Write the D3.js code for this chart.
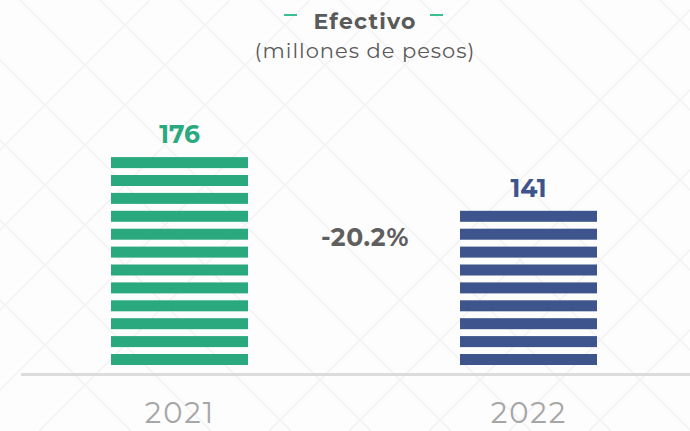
<!DOCTYPE html>
<html>
<head>
<meta charset="utf-8">
<script src="https://cdn.jsdelivr.net/npm/d3@7"></script>
<style>
  html, body { margin: 0; padding: 0; background: #fdfdfd; }
  svg { display: block; font-family: "Montserrat", "Open Sans", "DejaVu Sans", sans-serif; }
</style>
</head>
<body>
<div id="chart"></div>
<script>
// data
var years = ["2021", "2022"];
var values = [176, 141];
var valueLabels = ["176", "141"];
var changeLabel = "-20.2%";
var colors = ["#2ba97e", "#3d558c"];

var width = 690, height = 431;
var baseline = 365;
var stripeH = 11, pitch = 17.9;

var svg = d3.select("#chart").append("svg")
    .attr("width", width)
    .attr("height", height);

// faint chevron background
var bg = svg.append("g").attr("stroke", "#f2f2f2").attr("stroke-width", 1.5).attr("fill", "none");
[-300, -220, -140, -60, 20, 100, 180, 260, 340, 420, 500, 580, 660].forEach(function (o) {
    bg.append("line").attr("x1", o).attr("y1", 0).attr("x2", o + 431).attr("y2", 431);
});
[150, 230, 310, 390, 470, 700, 780, 860, 940, 1020].forEach(function (o) {
    bg.append("line").attr("x1", o).attr("y1", 0).attr("x2", o - 431).attr("y2", 431);
});

var x = d3.scalePoint()
    .domain(years)
    .range([179.5, 528.5]);

var y = d3.scaleLinear()
    .domain([0, 176])
    .range([baseline, 157]);

var barW = 137;

// title
svg.append("text")
    .attr("x", 365).attr("y", 29)
    .attr("text-anchor", "middle")
    .attr("font-size", 22).attr("font-weight", "bold")
    .attr("letter-spacing", 1.2)
    .attr("fill", "#5a5a5a")
    .text("Efectivo");
svg.append("line").attr("x1", 284).attr("x2", 297).attr("y1", 15).attr("y2", 15)
    .attr("stroke", "#3dbf94").attr("stroke-width", 2);
svg.append("line").attr("x1", 430).attr("x2", 443).attr("y1", 15).attr("y2", 15)
    .attr("stroke", "#3dbf94").attr("stroke-width", 2);
svg.append("text")
    .attr("x", 365).attr("y", 58)
    .attr("text-anchor", "middle")
    .attr("font-size", 21)
    .attr("letter-spacing", 1)
    .attr("fill", "#5a5a5a")
    .text("(millones de pesos)");

// striped bars
var bars = svg.selectAll(".bar")
    .data(years)
    .enter()
    .append("g")
    .attr("class", "bar");

bars.each(function (d, i) {
    var h = baseline - y(values[i]);
    var n = Math.round(h / pitch);
    d3.select(this).selectAll("rect")
        .data(d3.range(n))
        .enter()
        .append("rect")
        .attr("x", x(d) - barW / 2)
        .attr("y", function (k) { return baseline - stripeH - k * pitch; })
        .attr("width", barW)
        .attr("height", stripeH)
        .attr("fill", colors[i]);
    var top = baseline - stripeH - (n - 1) * pitch;
    d3.select(this).append("text")
        .attr("x", x(d))
        .attr("y", top - 14)
        .attr("text-anchor", "middle")
        .attr("font-size", 25)
        .attr("font-weight", "bold")
        .attr("fill", colors[i])
        .text(valueLabels[i]);
});

// change label
svg.append("text")
    .attr("x", 365).attr("y", 246)
    .attr("text-anchor", "middle")
    .attr("font-size", 25)
    .attr("font-weight", "bold")
    .attr("letter-spacing", 0.6)
    .attr("fill", "#5f5f5f")
    .text(changeLabel);

// axis
var axis = svg.append("g")
    .attr("transform", "translate(0," + 374.5 + ")")
    .call(d3.axisBottom(x).tickSize(0).tickPadding(28));
axis.select(".domain").remove();
axis.append("line").attr("x1", 21).attr("x2", width).attr("y1", 0).attr("y2", 0)
    .attr("stroke", "#dcdcdc").attr("stroke-width", 3);
axis.selectAll(".tick text")
    .attr("font-size", 29)
    .attr("fill", "#a6a6a6")
    .attr("letter-spacing", 2)
    .attr("font-family", "\"Montserrat\", \"Open Sans\", sans-serif")
    .attr("dy", "0.7em");
</script>
</body>
</html>
